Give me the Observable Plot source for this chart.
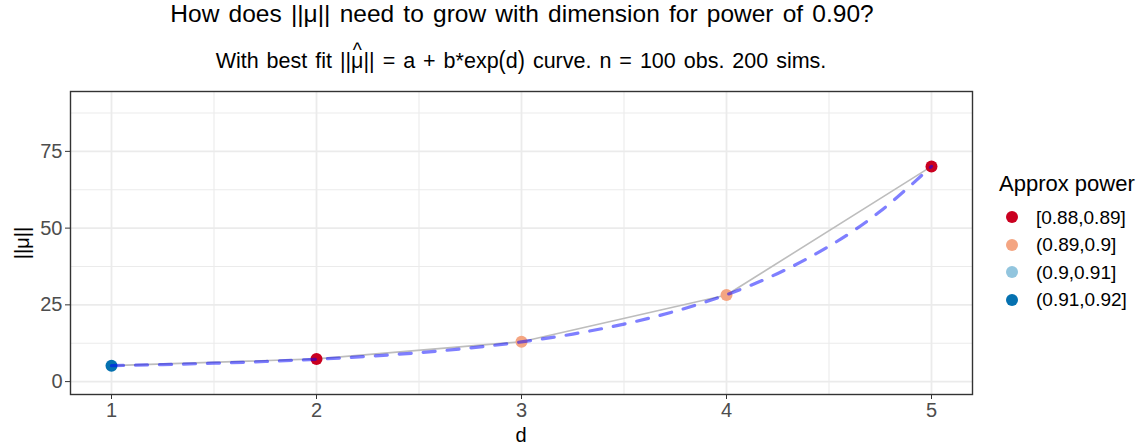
<!DOCTYPE html>
<html>
<head>
<meta charset="utf-8">
<script src="https://cdn.jsdelivr.net/npm/d3@7"></script>
<script src="https://cdn.jsdelivr.net/npm/@observablehq/plot@0.6"></script>
<style>
  body { margin: 0; background: #fff; font-family: "Liberation Sans", Arial, Helvetica, sans-serif; }
  #wrap { position: relative; width: 1141px; height: 445px; overflow: hidden; background: #fff; }
  #chart { position: absolute; left: 0; top: 0; }
  .t { position: absolute; white-space: nowrap; line-height: 1; color: #000; }
  #title { font-size: 24.5px; word-spacing: 2.4px; left: 522px; top: 2px; transform: translateX(-50%); }
  #subtitle { font-size: 21.5px; word-spacing: 2px; left: 521px; top: 51px; transform: translateX(-50%); }
  .hat { position: relative; display: inline-block; }
  .caret { position: absolute; left: 50%; top: -0.53em; transform: translateX(-50%); font-size: 0.9em; }
  .paren { display: inline-block; transform: scaleY(1.22); }
  #xlab { font-size: 20px; left: 521px; top: 425px; transform: translateX(-50%); }
  #ylab { font-size: 20px; left: 22px; top: 243px; transform: translate(-50%, -50%) rotate(-90deg); }
  #legtitle { font-size: 22px; left: 999px; top: 173px; }
  .key { position: absolute; width: 12px; height: 12px; border-radius: 50%; }
  .keylab { position: absolute; font-size: 19px; line-height: 1; white-space: nowrap; color: #000; }
</style>
</head>
<body>
<div id="wrap">
  <div id="chart"></div>
  <div class="t" id="title">How does ||μ|| need to grow with dimension for power of 0.90?</div>
  <div class="t" id="subtitle">With best fit ||<span class="hat">μ<span class="caret">^</span></span>|| = a + b*exp<span class="paren">(</span>d<span class="paren">)</span> curve. n = 100 obs. 200 sims.</div>
  <div class="t" id="xlab">d</div>
  <div class="t" id="ylab">||μ||</div>
  <div class="t" id="legtitle">Approx power</div>
</div>
<script>
// Simulated norm of the mean needed at each dimension
const dims = [1, 2, 3, 4, 5];
const muNorm = [5.2, 7.4, 13.0, 28.2, 70.1];
const powerBin = ["(0.91,0.92]", "[0.88,0.89]", "(0.89,0.9]", "(0.89,0.9]", "[0.88,0.89]"];

// Power bins shown in the legend and their colours
const powerBins = ["[0.88,0.89]", "(0.89,0.9]", "(0.9,0.91]", "(0.91,0.92]"];
const powerColors = ["#CA0020", "#F4A582", "#92C5DE", "#0571B0"];

// Best-fit a + b*exp(d) curve, evaluated along d
const fitD = [1, 1.25, 1.5, 1.75, 2, 2.25, 2.5, 2.75, 3, 3.25, 3.5, 3.75, 4, 4.25, 4.5, 4.75, 5];
const fitMu = [5.2, 5.54, 5.99, 6.55, 7.28, 8.22, 9.42, 10.96, 12.94, 15.48, 18.74, 22.93, 28.31, 35.22, 44.09, 55.48, 70.1];

// Axis ticks and grid
const xTicks = [1, 2, 3, 4, 5];
const xMinor = [1.5, 2.5, 3.5, 4.5];
const yTicks = [0, 25, 50, 75];
const yMinor = [12.5, 37.5, 62.5, 87.5];

const points = dims.map((d, i) => ({d, mu: muNorm[i], bin: powerBin[i]}));
const fit = fitD.map((d, i) => ({d, mu: fitMu[i]}));

const font = '"Liberation Sans", Arial, Helvetica, sans-serif';

const chart = Plot.plot({
  width: 1141,
  height: 445,
  marginTop: 91,
  marginRight: 169,
  marginBottom: 51,
  marginLeft: 70,
  style: {fontFamily: font, background: "transparent"},
  x: {domain: [0.8, 5.2]},
  y: {domain: [-4.2, 94.5]},
  color: {type: "ordinal", domain: powerBins, range: powerColors},
  marks: [
    Plot.ruleX(xMinor, {stroke: "#ebebeb", strokeWidth: 1.1}),
    Plot.ruleY(yMinor, {stroke: "#ebebeb", strokeWidth: 1.1}),
    Plot.ruleX(xTicks, {stroke: "#ebebeb", strokeWidth: 1.8}),
    Plot.ruleY(yTicks, {stroke: "#ebebeb", strokeWidth: 1.8}),
    Plot.line(points, {x: "d", y: "mu", stroke: "#bdbdbd", strokeWidth: 1.6}),
    Plot.dot(points, {x: "d", y: "mu", fill: "bin", r: 6}),
    Plot.line(fit, {x: "d", y: "mu", stroke: "#0000ff", strokeOpacity: 0.5, strokeWidth: 3.2,
                    strokeDasharray: "12,12", curve: "natural"}),
    Plot.frame({stroke: "#333333", strokeWidth: 1.4}),
    Plot.axisX(xTicks, {tickSize: 5, tickPadding: 3, fontSize: 20, label: null,
                        tickFormat: d => String(d), stroke: "#333333", fill: "#4d4d4d"}),
    Plot.axisY(yTicks, {tickSize: 5, tickPadding: 3, fontSize: 20, label: null,
                        tickFormat: d => String(d), stroke: "#333333", fill: "#4d4d4d"})
  ]
});
document.getElementById("chart").appendChild(chart);

// Legend for the power bins
const wrap = document.getElementById("wrap");
powerBins.forEach((label, i) => {
  const cy = 217 + i * 27.6;
  const key = document.createElement("div");
  key.className = "key";
  key.style.left = (1012 - 6) + "px";
  key.style.top = (cy - 6) + "px";
  key.style.background = powerColors[i];
  wrap.appendChild(key);
  const lab = document.createElement("div");
  lab.className = "keylab";
  lab.style.left = "1036px";
  lab.style.top = (cy - 9.5) + "px";
  lab.textContent = label;
  wrap.appendChild(lab);
});
</script>
</body>
</html>
